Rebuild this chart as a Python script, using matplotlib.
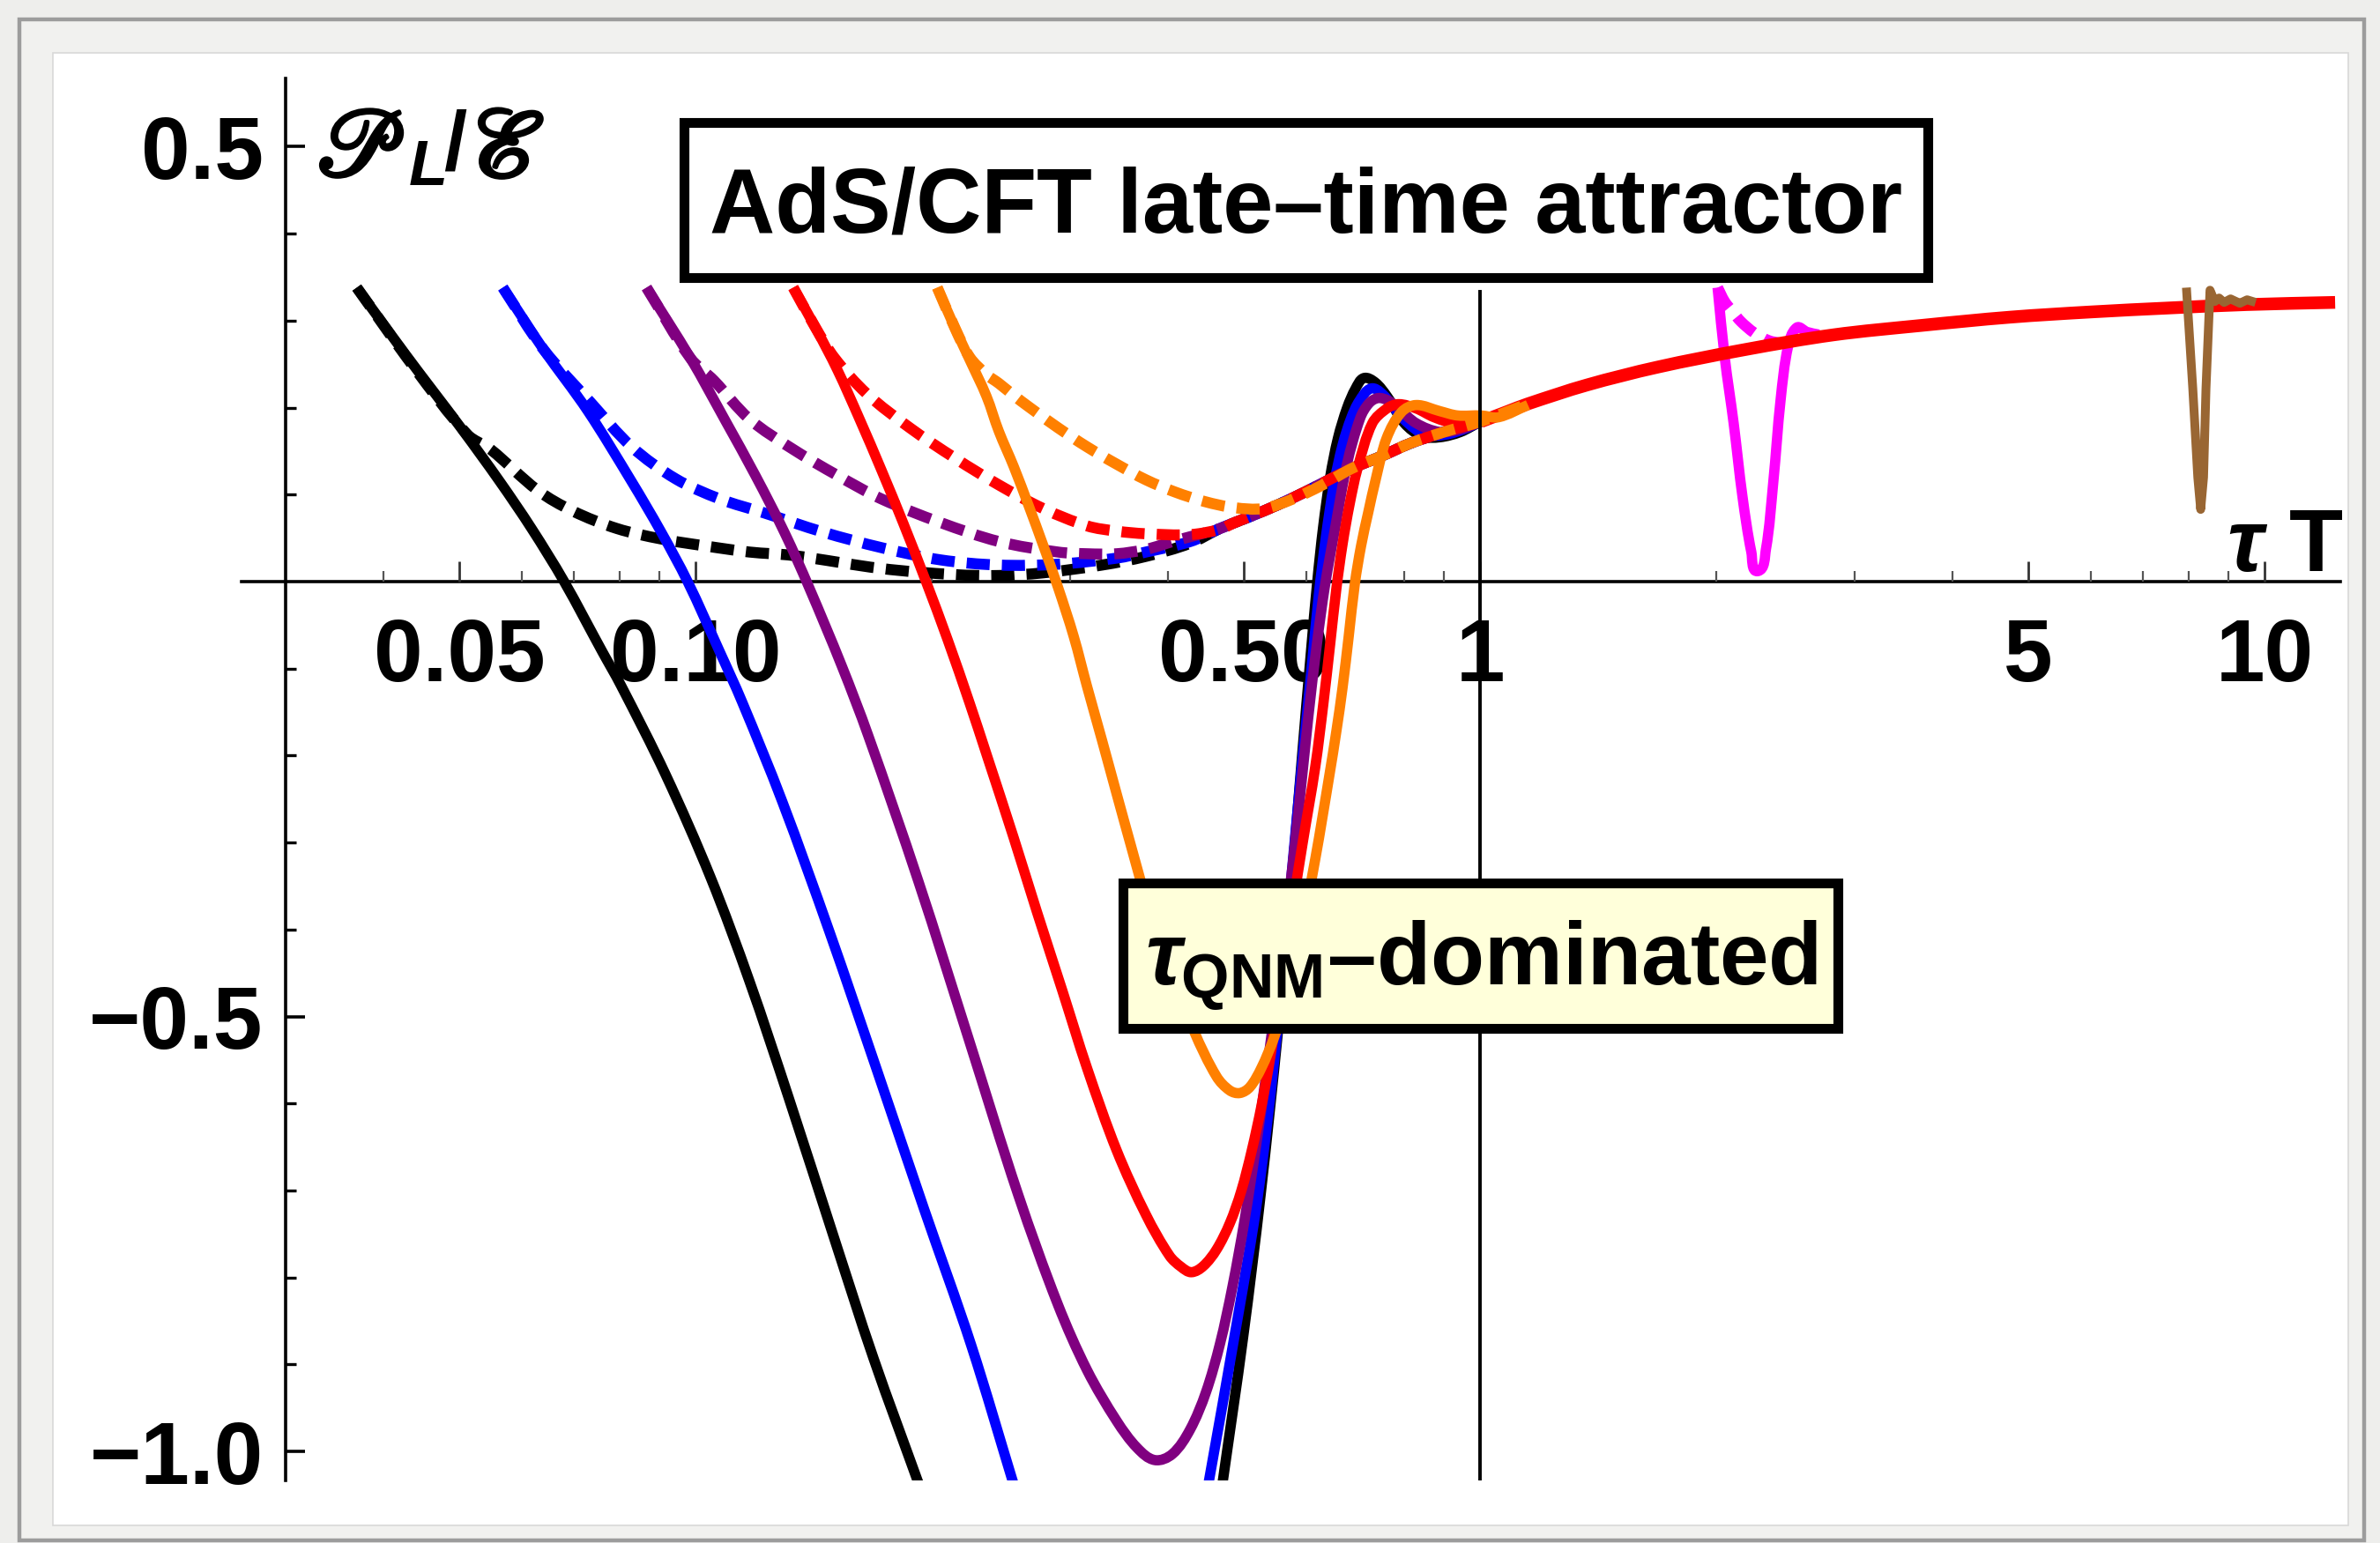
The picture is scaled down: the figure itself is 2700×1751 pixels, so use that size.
import numpy as np
import matplotlib.pyplot as plt
import matplotlib.patheffects as pe
from matplotlib.patches import Rectangle, PathPatch
from matplotlib.path import Path

W, H, DPI = 2700, 1751, 200

plt.rcParams["font.family"] = ["Liberation Sans", "DejaVu Sans"]
plt.rcParams["font.weight"] = "bold"
plt.rcParams["mathtext.fontset"] = "custom"
plt.rcParams["mathtext.rm"] = "Liberation Sans:bold"
plt.rcParams["mathtext.it"] = "Liberation Sans:italic:bold"
plt.rcParams["mathtext.bf"] = "Liberation Sans:bold"

# --- solid curves: early descent, then (after leaving the frame) the rise -------------
black_x = [0.0370, 0.0427, 0.0503, 0.0563, 0.0618, 0.0680, 0.0761, 0.0803, 0.0916, 0.1045,
           0.1171, 0.1315, 0.1501, 0.1686, 0.1930, np.nan,
           0.469, 0.499, 0.525, 0.553, 0.575, 0.593, 0.609, 0.620, 0.631, 0.644, 0.659,
           0.677, 0.694, 0.711, 0.735, 0.761, 0.801, 0.844, 0.889, 0.944, 1.003, 1.080, 1.151]
black_y = [0.338, 0.261, 0.176, 0.115, 0.061, 0.000, -0.081, -0.119, -0.222, -0.340,
           -0.459, -0.594, -0.754, -0.893, -1.040, np.nan,
           -1.040, -0.868, -0.706, -0.514, -0.347, -0.201, -0.079, -0.001, 0.063, 0.120, 0.165,
           0.200, 0.222, 0.234, 0.229, 0.213, 0.182, 0.167, 0.166, 0.172, 0.184, 0.195, 0.204]

blue_x = [0.0568, 0.0640, 0.0729, 0.0829, 0.0904, 0.0977, 0.1074, 0.1146, 0.1290, 0.1482,
          0.1702, 0.1955, 0.2246, 0.2548, np.nan,
          0.450, 0.490, 0.520, 0.547, 0.570, 0.591, 0.609, 0.623, 0.636, 0.651, 0.668,
          0.685, 0.702, 0.726, 0.750, 0.801, 0.851, 0.904, 0.952, 1.003, 1.080, 1.151]
blue_y = [0.338, 0.267, 0.196, 0.115, 0.057, 0.000, -0.081, -0.138, -0.253, -0.403,
          -0.561, -0.721, -0.878, -1.040, np.nan,
          -1.040, -0.851, -0.711, -0.547, -0.375, -0.223, -0.106, -0.015, 0.051, 0.111, 0.157,
          0.188, 0.208, 0.222, 0.216, 0.186, 0.169, 0.169, 0.175, 0.184, 0.195, 0.204]

purple_x = [0.0866, 0.0985, 0.1093, 0.1192, 0.1299, 0.1396, 0.1536, 0.1660, 0.1924, 0.2233,
            0.2578, 0.2896, 0.3157, 0.3442, 0.3655, 0.3849, 0.4054, 0.4269, 0.4473, 0.4662,
            0.4834, 0.5008, 0.5183, 0.5347, 0.5501, 0.5675, 0.5854, 0.6038, 0.6196, 0.6342,
            0.6542, 0.6766, 0.7034, 0.7218, 0.7413, 0.7641, 0.7876, 0.8294, 0.8885, 0.9439,
            1.003, 1.080, 1.151]
purple_y = [0.338, 0.257, 0.184, 0.122, 0.056, -0.007, -0.097, -0.177, -0.345, -0.528,
            -0.705, -0.831, -0.907, -0.965, -0.996, -1.010, -1.003, -0.975, -0.932, -0.876,
            -0.811, -0.735, -0.648, -0.562, -0.478, -0.380, -0.274, -0.157, -0.071, -0.005,
            0.064, 0.135, 0.188, 0.205, 0.211, 0.208, 0.199, 0.182, 0.172, 0.175,
            0.184, 0.195, 0.204]

red_x = [0.1332, 0.1422, 0.1517, 0.1618, 0.1726, 0.1842, 0.1965, 0.2096, 0.2236, 0.2346,
         0.2545, 0.2722, 0.2934, 0.3157, 0.3442, 0.3751, 0.4019, 0.4160, 0.4286, 0.4438,
         0.4614, 0.4796, 0.4960, 0.5117, 0.5264, 0.5402, 0.5602, 0.5778, 0.5945, 0.6165,
         0.6310, 0.6442, 0.6559, 0.6679, 0.6819, 0.6979, 0.7288, 0.7607, 0.7876, 0.8294,
         0.8735, 0.9357, 1.003]
red_y = [0.338, 0.292, 0.243, 0.187, 0.128, 0.066, 0.001, -0.067, -0.140, -0.197,
         -0.295, -0.379, -0.470, -0.560, -0.654, -0.728, -0.775, -0.788, -0.794, -0.787,
         -0.768, -0.738, -0.701, -0.654, -0.603, -0.547, -0.454, -0.370, -0.299, -0.213,
         -0.142, -0.071, -0.008, 0.043, 0.089, 0.130, 0.182, 0.199, 0.204, 0.199,
         0.189, 0.181, 0.184]

orange_x = [0.2033, 0.2140, 0.2236, 0.2349, 0.2435, 0.2545, 0.2659, 0.2771, 0.2896, 0.3034,
            0.3154, 0.3296, 0.3444, 0.3590, 0.3722, 0.4002, 0.4320, 0.4614, 0.4796, 0.4941,
            0.5090, 0.5264, 0.5459, 0.5631, 0.5884, 0.6165, 0.6425, 0.6559, 0.6679, 0.6801,
            0.6925, 0.7052, 0.7200, 0.7369, 0.7602, 0.7943, 0.8294, 0.8885, 0.9357, 1.003,
            1.056, 1.151]
orange_y = [0.338, 0.292, 0.255, 0.213, 0.173, 0.132, 0.087, 0.043, -0.006, -0.063,
            -0.120, -0.182, -0.245, -0.304, -0.354, -0.439, -0.517, -0.569, -0.585, -0.588,
            -0.581, -0.559, -0.525, -0.486, -0.413, -0.319, -0.223, -0.172, -0.122, -0.063,
            -0.002, 0.041, 0.079, 0.119, 0.165, 0.195, 0.203, 0.196, 0.191, 0.191,
            0.189, 0.203]

# --- dashed curves: branch off each solid start and fall onto the attractor ----------
black_dash_x = [0.0370, 0.0438, 0.0512, 0.0548, 0.0629, 0.0698, 0.0794, 0.0904, 0.1029,
                0.1171, 0.1332, 0.1726, 0.2140, 0.2435, 0.2771, 0.3296, 0.3751, 0.4269]
black_dash_y = [0.338, 0.246, 0.169, 0.152, 0.105, 0.081, 0.061, 0.049, 0.041,
                0.034, 0.030, 0.015, 0.008, 0.007, 0.010, 0.019, 0.029, 0.044]

blue_dash_x = [0.0568, 0.0640, 0.0735, 0.0829, 0.0944, 0.1074, 0.1223, 0.1453, 0.1726,
               0.2051, 0.2437, 0.2896, 0.3442, 0.3751, 0.4269]
blue_dash_y = [0.338, 0.267, 0.206, 0.155, 0.118, 0.095, 0.079, 0.057, 0.039,
               0.025, 0.019, 0.020, 0.027, 0.034, 0.046]

purple_dash_x = [0.0866, 0.0985, 0.1056, 0.1171, 0.1332, 0.1517, 0.1726, 0.2051, 0.2437,
                 0.2896, 0.3157, 0.3442, 0.3751, 0.4089, 0.4458]
purple_dash_y = [0.338, 0.257, 0.231, 0.187, 0.152, 0.122, 0.095, 0.068, 0.046,
                 0.034, 0.032, 0.032, 0.037, 0.047, 0.056]

red_dash_x = [0.1332, 0.1422, 0.1504, 0.1653, 0.1881, 0.2141, 0.2437, 0.2774, 0.3157,
              0.3442, 0.3751, 0.4269, 0.4653]
red_dash_y = [0.338, 0.292, 0.257, 0.216, 0.176, 0.142, 0.111, 0.084, 0.064,
              0.058, 0.055, 0.054, 0.060]

orange_dash_x = [0.2033, 0.2140, 0.2236, 0.2349, 0.2435, 0.2545, 0.2659, 0.2896, 0.3154,
                 0.3442, 0.3751, 0.4085, 0.4458, 0.4859, 0.5294, 0.5774, 0.6292]
orange_dash_y = [0.338, 0.292, 0.258, 0.238, 0.228, 0.214, 0.201, 0.177, 0.155,
                 0.135, 0.117, 0.103, 0.092, 0.085, 0.084, 0.095, 0.111]

# common late-time attractor
attr_x = [0.4653, 0.4859, 0.5296, 0.5774, 0.6292, 0.6859, 0.7479, 0.8151, 0.9000, 1.003,
          1.080, 1.151, 1.368, 1.682, 2.178, 2.822, 3.650, 4.735, 6.000, 7.556, 9.500, 12.30]
attr_y = [0.0608, 0.0676, 0.0811, 0.0963, 0.1130, 0.1300, 0.1440, 0.1590, 0.1720, 0.1841,
          0.1950, 0.2044, 0.2260, 0.2465, 0.2668, 0.2837, 0.2945, 0.3040, 0.3100, 0.3146,
          0.3185, 0.3210]

# later initialisations
magenta_x = [2.008, 2.051, 2.105, 2.160, 2.217, 2.259, 2.314, 2.365, 2.416, 2.469, 2.533, 2.611, 2.703]
magenta_y = [0.338, 0.257, 0.182, 0.098, 0.034, 0.012, 0.037, 0.115, 0.209, 0.270, 0.292, 0.287, 0.284]
magenta_dash_x = [2.008, 2.050, 2.100, 2.150, 2.236, 2.334, 2.416]
magenta_dash_y = [0.338, 0.322, 0.310, 0.299, 0.286, 0.277, 0.274]

brown_x = [7.95, 8.10, 8.22, 8.29, 8.36, 8.42, 8.52, 8.64, 8.75, 8.88, 9.05, 9.30, 9.50, 9.74]
brown_y = [0.338, 0.222, 0.120, 0.083, 0.120, 0.222, 0.335, 0.322, 0.326, 0.321, 0.325, 0.320,
           0.324, 0.321]

x_major = [0.05, 0.1, 0.5, 1, 5, 10]
x_major_labels = ["0.05", "0.10", "0.50", "1", "5", "10"]
x_minor = [0.04, 0.06, 0.07, 0.08, 0.09, 0.2, 0.3, 0.4, 0.6, 0.7, 0.8, 0.9,
           2, 3, 4, 6, 7, 8, 9]
y_major = [0.5, -0.5, -1.0]
y_major_labels = ["0.5", "\u22120.5", "\u22121.0"]
y_minor = [0.4, 0.3, 0.2, 0.1, -0.1, -0.2, -0.3, -0.4, -0.6, -0.7, -0.8, -0.9]

X_RANGE = (0.02638, 12.49)
Y_RANGE = (-1.0334, 0.5785)


def fig_xy(px, py):
    return px / W, 1 - py / H


def fig_box(x0, y0, x1, y1, **kw):
    fx, fy = fig_xy(x0, y1)
    return Rectangle((fx, fy), (x1 - x0) / W, (y1 - y0) / H,
                     transform=fig.transFigure, **kw)


def with_tail(x, y, x_end=1.151):
    keep = [i for i, v in enumerate(attr_x) if x[-1] < v <= x_end]
    return list(x) + [attr_x[i] for i in keep], list(y) + [attr_y[i] for i in keep]


# pixels per decade / per unit on screen, so the spline tangents follow the drawn shape
SX, SY = 890.0, 987.0


def smooth_path(x, y):
    """Cubic Bezier path through every (x, y) point; NaN splits the curve."""
    x = np.asarray(x, float)
    y = np.asarray(y, float)
    cuts = [-1] + list(np.flatnonzero(np.isnan(x))) + [len(x)]
    verts, codes = [], []
    for a, b in zip(cuts[:-1], cuts[1:]):
        p = np.column_stack([np.log10(x[a + 1:b]) * SX, y[a + 1:b] * SY])
        if len(p) < 2:
            continue
        t = np.empty_like(p)
        t[1:-1] = p[2:] - p[:-2]
        t[0] = p[1] - p[0]
        t[-1] = p[-1] - p[-2]
        t /= np.hypot(t[:, 0], t[:, 1])[:, None]
        verts.append(p[0])
        codes.append(Path.MOVETO)
        for i in range(len(p) - 1):
            d = np.hypot(*(p[i + 1] - p[i])) / 3
            verts += [p[i] + t[i] * d, p[i + 1] - t[i + 1] * d, p[i + 1]]
            codes += [Path.CURVE4] * 3
    v = np.array(verts)
    return Path(np.column_stack([10 ** (v[:, 0] / SX), v[:, 1] / SY]), codes)


fig = plt.figure(figsize=(W / DPI, H / DPI), dpi=DPI, facecolor="#eeeeec")

# page frame and white plot panel
fig.add_artist(fig_box(22, 22, 2682, 1748, facecolor="#f1f1ef", edgecolor="#9c9c9c",
                       lw=1.6, zorder=-10))
fig.add_artist(fig_box(60, 60, 2664, 1731, facecolor="white", edgecolor="#d8d8d8",
                       lw=0.6, zorder=-9))

ax = fig.add_axes([274 / W, 1 - 1680 / H, (2655 - 274) / W, (1680 - 89) / H])
ax.patch.set_visible(False)
ax.set_xscale("log")

SOLID_LW = 4.2
DASH_LW = 4.5
DASH = (0, (2.1, 1.1))


def draw(x, y, color, z, dashed=False, lw=None):
    patch = PathPatch(smooth_path(x, y), fill=False, edgecolor=color,
                      lw=lw or (DASH_LW if dashed else SOLID_LW),
                      linestyle=DASH if dashed else "-", capstyle="butt",
                      joinstyle="round", zorder=z)
    ax.add_patch(patch)


series = [
    ("black", black_x, black_y, black_dash_x, black_dash_y),
    ("#0000ff", blue_x, blue_y, blue_dash_x, blue_dash_y),
    ("#800080", purple_x, purple_y, purple_dash_x, purple_dash_y),
    ("#ff0000", red_x, red_y, red_dash_x, red_dash_y),
    ("#ff8000", orange_x, orange_y, orange_dash_x, orange_dash_y),
]
for i, (c, sx, sy, dx, dy) in enumerate(series):
    z = 2 + 0.1 * i
    draw(sx, sy, c, z)
    if c == "#ff0000":
        tx, ty = with_tail(sx, sy, x_end=13.0)
        draw(tx[len(sx) - 1:], ty[len(sy) - 1:], c, z, lw=5.2)
    draw(*with_tail(dx, dy), c, z + 0.05, dashed=True)

draw(magenta_x, magenta_y, "#ff00ff", 2.25)
draw(magenta_dash_x, magenta_dash_y, "#ff00ff", 2.26, dashed=True)
# the late spike is too narrow for the spline; straight segments with round joins
ax.plot(brown_x, brown_y, color="#996633", lw=3.6, solid_joinstyle="round",
        solid_capstyle="butt", zorder=2.6)

# marker line at tau T = 1
ax.plot([1, 1], [Y_RANGE[0], 1 / 3], color="black", lw=1.4, zorder=3)

ax.set_xlim(*X_RANGE)
ax.set_ylim(*Y_RANGE)

for s in ("top", "right"):
    ax.spines[s].set_visible(False)
ax.spines["left"].set_position(("data", 0.03))
ax.spines["bottom"].set_position(("data", 0))
for s in ("left", "bottom"):
    ax.spines[s].set_linewidth(1.3)
    ax.spines[s].set_zorder(1.5)

ax.set_xticks(x_major)
ax.set_xticklabels(x_major_labels)
ax.set_xticks(x_minor, minor=True)
ax.xaxis.set_minor_formatter(plt.NullFormatter())
ax.set_yticks(y_major)
ax.set_yticklabels(y_major_labels)
ax.set_yticks(y_minor, minor=True)

ax.tick_params(axis="x", which="major", direction="in", length=8.3, width=1.0,
               color="#333333", pad=14.5, labelsize=36)
ax.tick_params(axis="x", which="minor", direction="in", length=4.3, width=0.8,
               color="#555555")
ax.tick_params(axis="y", which="major", direction="in", length=8.0, width=1.3,
               pad=9, labelsize=36)
ax.tick_params(axis="y", which="minor", direction="in", length=4.3, width=1.2)
for lab in ax.get_xticklabels() + ax.get_yticklabels():
    lab.set_fontweight("bold")

# axis label P_L / E with script letters, built from pieces
heavy = [pe.Stroke(linewidth=1.6, foreground="black"), pe.Normal()]
script = dict(family=["STIXGeneral", "DejaVu Sans"], style="italic", weight="normal",
              ha="left", va="baseline", path_effects=heavy)
fig.text(*fig_xy(360, 199), "\U0001D4AB", fontsize=39, **script)
fig.text(*fig_xy(464, 210), "L", fontsize=26, style="italic", weight="bold",
         ha="left", va="baseline")
fig.text(*fig_xy(503, 193), "/", fontsize=34, weight="bold", ha="left", va="baseline")
fig.text(*fig_xy(533, 200), "\u2130", fontsize=40, **script)
fig.text(*fig_xy(2659, 648), r"$\tau\ \mathrm{T}$", fontsize=36, ha="right", va="baseline")

# annotation boxes
fig.add_artist(fig_box(776.5, 139.5, 2187.5, 315.5, facecolor="white",
                       edgecolor="black", lw=4, zorder=10))
fig.text(*fig_xy(1482, 263), "AdS/CFT late\u2013time attractor", fontsize=37,
         fontweight="bold", ha="center", va="baseline", zorder=11)

fig.add_artist(fig_box(1273.5, 1001.5, 2084.5, 1166.5, facecolor="#ffffda",
                       edgecolor="black", lw=4, zorder=10))
fig.text(*fig_xy(1681, 1117), r"$\tau_{\mathrm{QNM}}$" + "\u2013dominated", fontsize=36,
         fontweight="bold", ha="center", va="baseline", zorder=11)

fig.savefig("out.png", dpi=DPI, facecolor=fig.get_facecolor())
